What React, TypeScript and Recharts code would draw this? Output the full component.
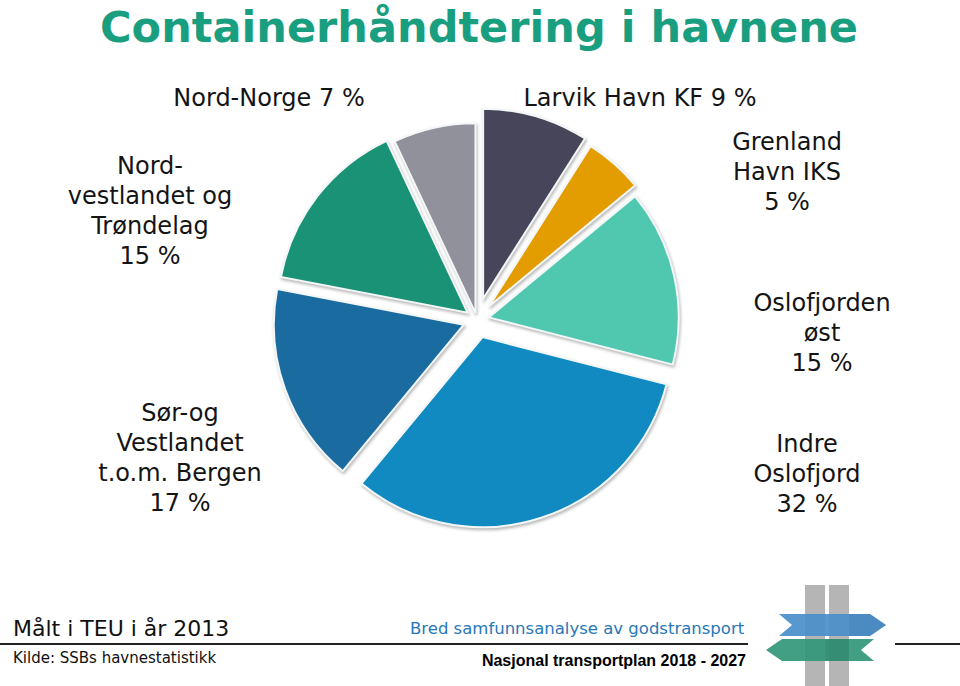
import React from 'react';
import { PieChart, Pie, Cell } from 'recharts';

// Container throughput per port region, 2013 (share of TEU, %)
const regions = [
  'Larvik Havn KF',
  'Grenland Havn IKS',
  'Oslofjorden øst',
  'Indre Oslofjord',
  'Sør-og Vestlandet t.o.m. Bergen',
  'Nordvestlandet og Trøndelag',
  'Nord-Norge',
];
const shares = [9, 5, 15, 32, 17, 15, 7];
const sliceColors = ['#46455a', '#e39d00', '#50c8b0', '#1189c1', '#1a6ba0', '#1a9276', '#91919c'];
// how far each slice is pulled out from the centre (px)
const explode = [22, 18, 12, 18, 14, 12, 7];

// how each label is broken into lines (the share is added after)
const labelLines: string[][] = [
  ['Larvik Havn KF'],
  ['Grenland', 'Havn IKS'],
  ['Oslofjorden', 'øst'],
  ['Indre', 'Oslofjord'],
  ['Sør-og', 'Vestlandet', 't.o.m. Bergen'],
  ['Nord-', 'vestlandet og', 'Trøndelag'],
  ['Nord-Norge'],
];
const labelPos = [
  { x: 640, y: 106 },
  { x: 787, y: 150 },
  { x: 822, y: 311 },
  { x: 807, y: 452 },
  { x: 180, y: 421 },
  { x: 150, y: 174 },
  { x: 269, y: 106 },
];

const data = regions.map((name, i) => ({ name, value: shares[i] }));

const W = 960;
const H = 686;
const CX = 477;
const CY = 320;
const R = 190;

const total = shares.reduce((a, b) => a + b, 0);
// mid angle of each slice, degrees clockwise from 12 o'clock
const midAngles = shares.map((v, i) => {
  const before = shares.slice(0, i).reduce((a, b) => a + b, 0);
  return ((before + v / 2) / total) * 360;
});

const font = '"DejaVu Sans", Verdana, sans-serif';

const Logo = () => (
  <g>
    <rect x={805} y={585} width={20} height={101} fill="#b5b5b5" />
    <rect x={829} y={585} width={20} height={101} fill="#b5b5b5" />
    <polygon points="779,614 870,614 886,625 870,636 779,636 792,625" fill="#4a8fca" opacity={0.92} />
    <polygon points="849,614 870,614 886,625 870,636 849,636" fill="#3f7db5" opacity={0.5} />
    <polygon points="766,650 782,639 874,639 861,650 874,661 782,661" fill="#33977a" opacity={0.92} />
    <polygon points="825,639 849,639 849,661 825,661" fill="#2b7c63" opacity={0.4} />
  </g>
);

const App = () => {
  return (
    <div style={{ position: 'absolute', left: 0, top: 0, width: W, height: H, background: '#fff' }}>
      <style>{`.exploded .recharts-pie { filter: drop-shadow(1px 2px 1.5px rgba(0,0,0,0.28)); }`}</style>
      <div className="exploded" style={{ position: 'absolute', left: 0, top: 0 }}>
        <PieChart width={W} height={H} margin={{ top: 0, right: 0, bottom: 0, left: 0 }}>
          {data.map((d, i) => {
            const a = (midAngles[i] * Math.PI) / 180;
            return (
              <Pie
                key={d.name}
                data={data}
                dataKey="value"
                nameKey="name"
                cx={CX + explode[i] * Math.sin(a)}
                cy={CY - explode[i] * Math.cos(a)}
                outerRadius={R}
                startAngle={90}
                endAngle={-270}
                isAnimationActive={false}
                labelLine={false}
              >
                {data.map((entry, j) => (
                  <Cell
                    key={entry.name}
                    fill={j === i ? sliceColors[j] : 'transparent'}
                    stroke={j === i ? '#f4f7f8' : 'none'}
                    strokeWidth={j === i ? 2 : 0}
                  />
                ))}
              </Pie>
            );
          })}
        </PieChart>
      </div>
      <svg width={W} height={H} style={{ position: 'absolute', left: 0, top: 0, pointerEvents: 'none' }}>
        <text
          x={479}
          y={42}
          textAnchor="middle"
          fontFamily={font}
          fontWeight="bold"
          fontSize={43}
          fill="#1a9e80"
          textLength={758}
          lengthAdjust="spacingAndGlyphs"
        >
          Containerhåndtering i havnene
        </text>

        {labelLines.map((lines, i) => {
          const inline = lines.length === 1;
          const rows = inline ? [`${lines[0]} ${shares[i]} %`] : [...lines, `${shares[i]} %`];
          return (
            <text key={regions[i]} textAnchor="middle" fontFamily={font} fontSize={24} fill="#141414">
              {rows.map((row, k) => (
                <tspan key={k} x={labelPos[i].x} y={labelPos[i].y + k * 30}>
                  {row}
                </tspan>
              ))}
            </text>
          );
        })}

        <text x={13} y={636} fontFamily={font} fontSize={22} fill="#111">
          Målt i TEU i år 2013
        </text>
        <line x1={0} y1={644} x2={748} y2={644} stroke="#222" strokeWidth={2} />
        <line x1={895} y1={644} x2={960} y2={644} stroke="#222" strokeWidth={2} />
        <text x={13} y={663} fontFamily={font} fontSize={15} fill="#111">
          Kilde: SSBs havnestatistikk
        </text>
        <text x={410} y={634} fontFamily={font} fontSize={16.5} fill="#2777b8">
          Bred samfunnsanalyse av godstransport
        </text>
        <text
          x={746}
          y={666}
          textAnchor="end"
          fontFamily='"Liberation Sans", Arial, sans-serif'
          fontWeight="bold"
          fontSize={16}
          fill="#000"
        >
          Nasjonal transportplan 2018 - 2027
        </text>
        <Logo />
      </svg>
    </div>
  );
};

export default App;
